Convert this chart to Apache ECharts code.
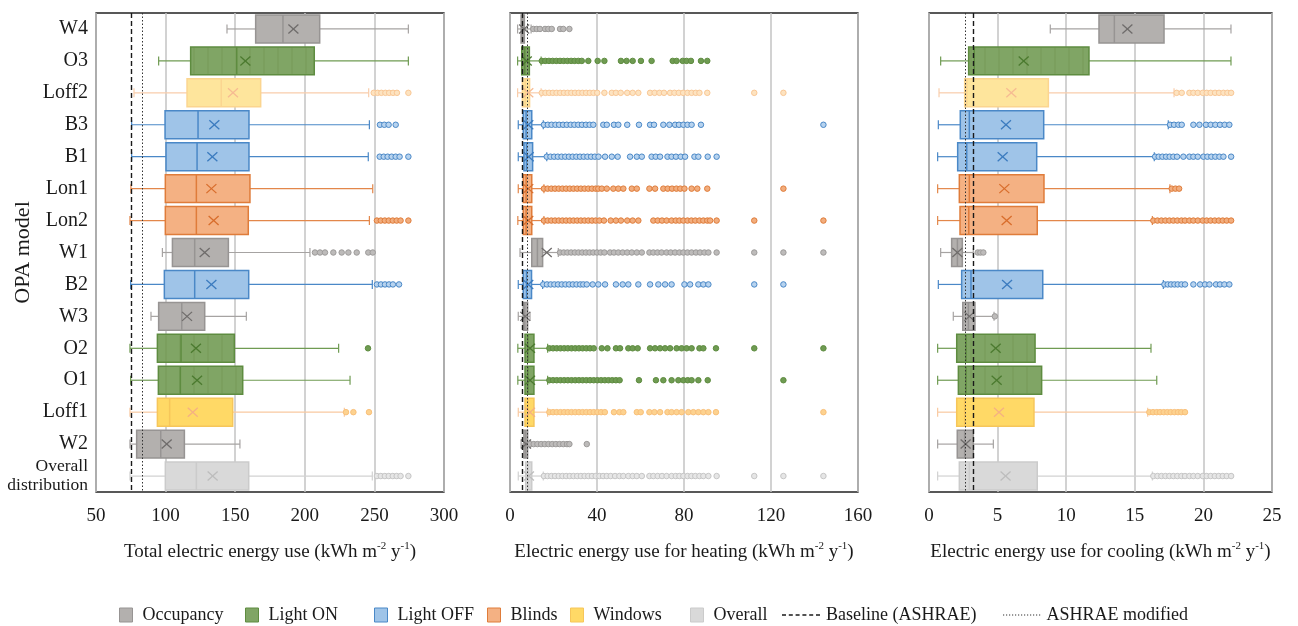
<!DOCTYPE html>
<html><head><meta charset="utf-8">
<script src="https://cdn.jsdelivr.net/npm/echarts@6/dist/echarts.min.js"></script>
<style>html,body{margin:0;padding:0;background:#fff}#c{width:1298px;height:626px}</style>
</head><body><div id="c"></div>
<script>
// ---------------- DATA ----------------
const categories = ['W4','O3','Loff2','B3','B1','Lon1','Lon2','W1','B2','W3','O2','O1','Loff1','W2','Overall distribution'];
const categoryGroups = ['Occupancy','Light ON','Windows','Light OFF','Light OFF','Blinds','Blinds','Occupancy','Light OFF','Occupancy','Light ON','Light ON','Windows','Occupancy','Overall'];
const legendNames = ['Occupancy','Light ON','Light OFF','Blinds','Windows','Overall','Baseline (ASHRAE)','ASHRAE modified'];

const totalTicks = [50,100,150,200,250,300];
const heatingTicks = [0,40,80,120,160];
const coolingTicks = [0,5,10,15,20,25];

// [min, Q1, median, Q3, max]
const totalStats = [
  [144.1,164.7,184.3,210.7,274.4],[95.0,118.0,151.1,206.8,274.4],[77.3,115.4,140.0,168.3,245.9],
  [75.6,99.6,123.3,159.9,246.4],[75.6,100.3,122.6,159.9,245.6],[75.1,99.8,122.1,160.6,248.8],
  [74.4,99.8,122.1,159.4,246.4],[97.7,104.9,120.9,145.1,203.7],[74.9,99.1,120.9,159.7,248.5],
  [89.5,95.0,111.6,128.1,158.0],[74.4,94.1,111.1,149.4,224.3],[74.9,94.8,110.6,155.4,232.5],
  [74.4,94.1,102.9,148.2,228.4],[74.4,79.2,96.5,113.5,153.4],[74.4,99.8,122.1,159.7,248.5]
];
const totalMeans = [191.8,157.3,148.4,135.0,133.6,132.9,134.5,128.1,132.9,115.4,121.8,122.6,119.5,100.8,133.8];
const totalOutliers = [
  [],[],[249.5,252.3,255.0,257.9,260.6,263.4,266.2,274.4],
  [254.0,257.1,260.2,265.3],[253.8,256.7,259.5,262.4,265.3,268.1,274.4],[],
  [251.8,254.6,257.5,260.3,263.2,266.0,268.8,274.4],[207.3,210.9,214.5,220.5,226.5,231.3,237.3,245.6,248.8],[251.8,254.7,257.6,260.5,263.3,267.7],
  [],[245.4],[],
  [229.6,234.9,246.1],[],[251.8,254.6,257.5,260.3,263.2,266.0,268.8,274.4]
];
const totalBaseline = [75.6, 83.3];

const heatingStats = [
  [3.5,5.1,5.8,6.6,9.7],[3.5,5.4,6.8,8.9,14.3],[3.5,5.7,7.0,9.0,14.3],
  [3.8,6.1,7.4,10.0,15.3],[3.8,6.4,7.6,10.4,16.9],[3.8,6.1,7.4,10.0,15.6],
  [3.6,6.1,7.4,10.0,15.6],[4.6,10.0,12.6,15.0,22.2],[3.8,6.1,7.6,9.9,15.0],
  [3.8,6.1,6.8,8.1,9.2],[3.6,6.9,8.2,11.0,17.3],[3.6,6.9,8.2,11.0,17.3],
  [3.8,6.9,8.2,11.0,17.3],[5.1,6.4,7.2,8.1,9.2],[3.8,7.2,8.3,10.0,15.3]
];
const heatingMeans = [6.5,7.7,8.4,8.4,8.6,8.4,8.4,16.9,8.4,7.0,9.2,9.2,9.2,7.4,8.7];
const heatingOutliers = [
  [10.7,12.3,13.8,16.1,17.6,19.2,23.0,24.5,27.3],
  [14.6,16.2,17.9,19.6,21.3,23.0,24.7,26.4,28.1,29.7,31.4,33.0,36.0,40.3,43.4,51.0,53.6,56.4,60.2,65.1,74.8,76.6,79.4,81.2,83.2,87.8,90.7],
  [14.6,16.3,18.0,19.7,21.4,23.1,24.8,26.5,28.2,29.9,31.6,33.3,35.0,36.7,38.4,40.1,43.4,46.8,48.7,50.9,53.9,56.4,59.0,64.4,66.5,68.7,70.8,73.6,75.6,77.6,79.6,81.6,83.5,85.4,87.1,90.7,112.3,125.7],
  [15.6,17.4,19.1,20.9,22.6,24.4,26.1,27.9,29.6,31.4,33.1,34.9,36.6,38.3,42.9,44.5,47.8,49.8,53.9,59.3,64.4,66.2,70.5,73.3,75.9,77.7,79.7,81.6,83.5,87.8,144.1],
  [16.9,18.6,20.3,22.0,23.7,25.4,27.1,28.8,30.5,32.2,33.9,35.6,37.3,39.0,40.7,43.7,46.8,49.5,55.2,58.3,60.6,65.1,67.0,69.0,72.4,74.3,76.3,78.5,80.5,84.8,86.6,90.9,95.0],
  [15.6,17.3,19.0,20.7,22.4,24.1,25.8,27.5,29.2,30.9,32.6,34.3,36.0,37.7,39.4,40.6,42.2,44.5,47.5,49.8,52.1,56.0,58.3,64.1,66.7,70.5,72.5,74.5,76.5,78.3,80.2,83.5,86.1,90.7,125.7],
  [15.6,17.3,19.0,20.7,22.4,24.1,25.8,27.5,29.2,30.9,32.6,34.3,36.0,37.7,39.4,41.1,43.2,46.3,48.7,51.0,53.9,56.4,59.0,65.9,67.9,69.9,72.0,74.3,76.2,77.9,79.7,81.6,83.4,85.2,87.1,88.9,90.7,92.0,95.0,112.3,144.1],
  [23.0,24.7,26.4,28.1,29.8,31.5,33.2,34.9,36.6,38.3,40.0,41.7,43.4,46.0,47.8,49.8,51.8,53.9,56.0,58.3,60.6,64.1,65.9,67.8,69.7,72.0,73.9,75.9,77.9,79.7,81.6,83.5,85.5,87.4,89.4,91.2,95.0,112.3,125.7,144.1],
  [15.3,17.0,18.7,20.4,22.1,23.8,25.5,27.2,28.9,30.6,32.3,33.7,35.3,38.0,40.6,43.7,48.7,51.8,54.4,59.0,64.4,68.2,71.3,74.3,80.2,82.8,86.6,88.9,91.2,112.3,125.7],
  [],
  [18.1,19.8,21.5,23.2,24.9,26.6,28.3,30.0,31.7,33.4,35.1,36.8,38.5,42.2,44.8,48.7,50.6,54.4,56.4,58.7,64.4,66.7,69.0,71.3,73.6,76.6,78.9,81.2,83.5,87.1,88.9,94.7,112.3,144.1],
  [18.1,19.8,21.5,23.2,24.9,26.6,28.3,30.0,31.7,33.4,35.1,36.8,38.5,40.2,41.9,43.6,45.3,47.0,48.7,50.4,59.3,67.1,70.5,74.3,77.4,79.7,81.7,83.5,86.6,90.9,125.7],
  [18.1,19.8,21.5,23.2,24.9,26.6,28.3,30.0,31.7,33.4,35.1,36.8,38.5,40.2,41.9,43.6,47.8,50.3,52.1,58.3,60.1,64.1,66.4,69.0,72.4,74.3,76.6,78.9,82.0,84.3,86.6,88.9,91.2,94.7,144.1],
  [9.2,10.9,12.6,14.3,16.0,17.7,19.4,21.1,22.8,24.5,26.2,27.3,35.3],
  [15.6,17.3,19.0,20.7,22.4,24.1,25.8,27.5,29.2,30.9,32.6,34.3,36.0,37.7,39.4,41.1,42.8,44.5,46.3,48.3,50.3,52.1,54.4,56.4,58.3,60.6,64.1,65.9,67.9,69.9,72.0,74.3,76.2,77.9,79.7,81.6,83.4,85.2,87.1,88.9,91.2,95.0,112.3,125.7,144.1]
];
const heatingBaseline = [5.7, 8.1];

const coolingStats = [
  [8.84,12.39,13.51,17.13,22.01],[0.85,2.89,3.30,11.66,22.01],[0.73,2.60,2.75,8.70,17.86],
  [0.68,2.28,2.94,8.36,17.44],[0.63,2.09,2.75,7.85,16.42],[0.63,2.21,2.94,8.38,17.56],
  [0.63,2.26,2.90,7.89,16.28],[0.85,1.65,2.07,2.43,3.23],[0.68,2.38,3.06,8.29,17.08],
  [1.77,2.46,2.87,3.35,4.74],[0.63,2.02,2.70,7.73,16.18],[0.63,2.14,2.70,8.21,16.60],
  [0.63,2.02,2.60,7.65,15.94],[0.63,2.06,2.60,3.23,4.69],[0.63,2.21,2.94,7.89,16.28]
];
const coolingMeans = [14.46,6.90,6.00,5.61,5.37,5.49,5.66,2.07,5.69,2.94,4.86,4.93,5.10,2.67,5.58];
const coolingOutliers = [
  [],[],
  [18.05,18.42,18.98,19.27,19.59,19.95,20.24,20.53,20.85,21.14,21.46,21.75,22.02],
  [17.57,17.86,18.18,18.42,19.27,19.71,20.19,20.53,20.87,21.21,21.55,21.89],
  [16.48,16.74,17.01,17.28,17.54,17.81,18.08,18.54,18.98,19.27,19.59,20.00,20.29,20.58,20.87,21.17,21.46,22.02],
  [17.69,17.96,18.23],
  [16.35,16.65,16.94,17.23,17.52,17.81,18.10,18.40,18.66,18.98,19.27,19.59,19.95,20.24,20.53,20.83,21.12,21.41,21.70,22.02],
  [3.55,3.75,3.96],
  [17.16,17.40,17.64,17.89,18.13,18.40,18.66,19.27,19.76,20.12,20.44,20.92,21.21,21.53,21.89],
  [4.80],[],[],
  [16.06,16.33,16.60,16.84,17.11,17.37,17.62,17.89,18.15,18.39,18.66],
  [],
  [16.35,16.65,16.94,17.23,17.52,17.81,18.10,18.40,18.66,18.98,19.27,19.59,19.95,20.24,20.53,20.83,21.12,21.41,21.70,22.02]
];
const coolingBaseline = [3.23, 2.62];

// ---------------- STYLE ----------------
const FONT = '"Liberation Serif","Times New Roman",serif';
const groupStyles = {
  'Occupancy': {fill:'#b3b0ae', border:'#979493', whisker:'#a6a3a2', mean:'#6f6c6b', outFill:'#bdbbba', outBorder:'#9d9b9a'},
  'Light ON':  {fill:'#80a565', border:'#5e8c40', whisker:'#6f9b52', mean:'#4b7a2f', outFill:'#6f9b52', outBorder:'#5e8c40', stripes:true},
  'Light OFF': {fill:'#9fc4e8', border:'#4a88c7', whisker:'#4a88c7', mean:'#3b7bbf', outFill:'#b7d3ef', outBorder:'#4a88c7'},
  'Blinds':    {fill:'#f4b183', border:'#df7c3a', whisker:'#e3874a', mean:'#d86d2c', outFill:'#f2ad7d', outBorder:'#df7c3a'},
  'Windows':   {fill:'#ffd966', border:'#f6c65a', whisker:'#f9c9a0', mean:'#f5b183', outFill:'#fdd28f', outBorder:'#f9c07a'},
  'Overall':   {fill:'#d9d9d9', border:'#cbcbcb', whisker:'#d2d2d2', mean:'#bdbdbd', outFill:'#e6e6e6', outBorder:'#c6c6c6'}
};
const categoryStyleOverride = {
  'Loff2': {fill:'#fee59c', border:'#fbd590', whisker:'#f9cdab', mean:'#f6bb92', outFill:'#fde3c0', outBorder:'#f9c795'}
};
function styleOf(i){
  return Object.assign({}, groupStyles[categoryGroups[i]], categoryStyleOverride[categories[i]] || {});
}

const panels = [
  {ticks: totalTicks, stats: totalStats, means: totalMeans, outliers: totalOutliers, baseline: totalBaseline,
   title: ['Total electric energy use (kWh m','-2',' y','-1',')'], left: 96, width: 348},
  {ticks: heatingTicks, stats: heatingStats, means: heatingMeans, outliers: heatingOutliers, baseline: heatingBaseline,
   title: ['Electric energy use for heating (kWh m','-2',' y','-1',')'], left: 510, width: 348},
  {ticks: coolingTicks, stats: coolingStats, means: coolingMeans, outliers: coolingOutliers, baseline: coolingBaseline,
   title: ['Electric energy use for cooling (kWh m','-2',' y','-1',')'], left: 929, width: 343}
];

function makeRender(axisMin){
  return function(params, api){
    const cat = api.value(6);
    const st = styleOf(cat);
    const band = api.size([0,1])[1];
    const h = band * 0.875;
    const yc = api.coord([axisMin, cat])[1];
    const px = k => api.coord([api.value(k), cat])[0];
    const pMin = px(0), pQ1 = px(1), pMed = px(2), pQ3 = px(3), pMax = px(4), pMean = px(5);
    const gx0 = api.coord([axisMin, cat])[0];
    const cap = 4.5;
    const ls = {stroke: st.whisker, lineWidth: 1.2};
    const ch = [
      {type:'line', shape:{x1:pMin,y1:yc,x2:pQ1,y2:yc}, style:ls},
      {type:'line', shape:{x1:pQ3,y1:yc,x2:pMax,y2:yc}, style:ls},
      {type:'line', shape:{x1:pMin,y1:yc-cap,x2:pMin,y2:yc+cap}, style:ls},
      {type:'line', shape:{x1:pMax,y1:yc-cap,x2:pMax,y2:yc+cap}, style:ls},
      {type:'rect', shape:{x:pQ1,y:yc-h/2,width:pQ3-pQ1,height:h}, style:{fill:st.fill, stroke:st.border, lineWidth:1.5}}
    ];
    if (st.stripes){
      for (let x = gx0 + 14; x < pQ3 - 1; x += 14){
        if (x > pQ1 + 1) ch.push({type:'line', shape:{x1:x,y1:yc-h/2+1,x2:x,y2:yc+h/2-1}, style:{stroke:'rgba(80,120,50,0.22)', lineWidth:1}});
      }
    }
    ch.push({type:'line', shape:{x1:pMed,y1:yc-h/2,x2:pMed,y2:yc+h/2}, style:{stroke:st.border, lineWidth:1.5}});
    const m = 5;
    ch.push({type:'line', shape:{x1:pMean-m,y1:yc-m+0.5,x2:pMean+m,y2:yc+m-0.5}, style:{stroke:st.mean, lineWidth:1.3}});
    ch.push({type:'line', shape:{x1:pMean-m,y1:yc+m-0.5,x2:pMean+m,y2:yc-m+0.5}, style:{stroke:st.mean, lineWidth:1.3}});
    return {type:'group', children: ch};
  };
}

const grids = [], xAxes = [], yAxes = [], series = [];
panels.forEach((p, pi) => {
  grids.push({left: p.left, width: p.width, top: 13, height: 479, show: true, borderColor: '#222', borderWidth: 1.3,
              backgroundColor: 'transparent', containLabel: false, outerBoundsMode: 'none'});
  const t = p.ticks;
  xAxes.push({
    type: 'value', gridIndex: pi, min: t[0], max: t[t.length-1], interval: t[1]-t[0],
    axisLine: {show: false}, axisTick: {show: false},
    splitLine: {show: true, lineStyle: {color: '#c3c3c3', width: 1.5}},
    axisLabel: {fontFamily: FONT, fontSize: 19, color: '#1a1a1a', margin: 15, showMinLabel: true, showMaxLabel: true},
    name: '{t|' + p.title[0] + '}{s|' + p.title[1] + '}{t|' + p.title[2] + '}{s|' + p.title[3] + '}{t|' + p.title[4] + '}',
    nameLocation: 'middle', nameGap: 49, nameMoveOverlap: false,
    nameTextStyle: {rich: {
      t: {fontFamily: FONT, fontSize: 19, color: '#1a1a1a', lineHeight: 22},
      s: {fontFamily: FONT, fontSize: 11, color: '#1a1a1a', lineHeight: 14, verticalAlign: 'top'}
    }}
  });
  yAxes.push({
    type: 'category', gridIndex: pi, data: categories, inverse: true,
    axisLine: {show: false}, axisTick: {show: false}, splitLine: {show: false},
    axisLabel: pi === 0 ? {
      show: true, fontFamily: FONT, fontSize: 20, color: '#1a1a1a', margin: 8, interval: 0,
      formatter: v => v === 'Overall distribution' ? '{o|Overall}\n{o|distribution}' : v,
      rich: {o: {fontFamily: FONT, fontSize: 17.5, color: '#1a1a1a', lineHeight: 19, align: 'right'}}
    } : {show: false},
    name: pi === 0 ? 'OPA model' : '', nameLocation: 'middle', nameGap: 62, nameRotate: 90, nameMoveOverlap: false,
    nameTextStyle: {fontFamily: FONT, fontSize: 22, color: '#1a1a1a'}
  });

  ['Occupancy','Light ON','Light OFF','Blinds','Windows','Overall'].forEach(g => {
    const idx = categories.map((c, i) => i).filter(i => categoryGroups[i] === g);
    const gs = groupStyles[g];
    series.push({
      type: 'custom', name: g, xAxisIndex: pi, yAxisIndex: pi, z: 2,
      itemStyle: {color: gs.fill, borderColor: gs.border},
      renderItem: makeRender(t[0]),
      encode: {x: [0,1,2,3,4,5], y: 6},
      data: idx.map(i => p.stats[i].concat([p.means[i], i])),
      silent: true, animation: false
    });
  });
  p.outliers.forEach((arr, i) => {
    if (!arr.length) return;
    const st = styleOf(i);
    series.push({
      type: 'scatter', name: categoryGroups[i], xAxisIndex: pi, yAxisIndex: pi, z: 3,
      symbol: 'circle', symbolSize: 5.5,
      itemStyle: {color: st.outFill, borderColor: st.outBorder, borderWidth: 1, opacity: 1},
      data: arr.map(v => [v, i]), silent: true, animation: false
    });
  });
  series.push({
    type: 'line', name: 'Baseline (ASHRAE)', xAxisIndex: pi, yAxisIndex: pi, data: [], symbol: 'none', showSymbol: false,
    itemStyle: {color: '#1a1a1a'},
    lineStyle: {color: '#1a1a1a', width: 1.4, type: [5,3]},
    markLine: {silent: true, symbol: ['none','none'], label: {show: false}, animation: false, z: 6,
      lineStyle: {color: '#1a1a1a', width: 1.4, type: [5,3]}, data: [{xAxis: p.baseline[0]}]}
  });
  series.push({
    type: 'line', name: 'ASHRAE modified', xAxisIndex: pi, yAxisIndex: pi, data: [], symbol: 'none', showSymbol: false,
    itemStyle: {color: '#333'},
    lineStyle: {color: '#333', width: 1, type: [1.5,2]},
    markLine: {silent: true, symbol: ['none','none'], label: {show: false}, animation: false, z: 6,
      lineStyle: {color: '#333', width: 1, type: [1.5,2]}, data: [{xAxis: p.baseline[1]}]}
  });
});

// legend glyphs for the two reference lines (dashed / dotted strokes, 38 px long)
const dashedIcon = 'path://M0,0h4v1.4h-4zM6.8,0h4v1.4h-4zM13.6,0h4v1.4h-4zM20.4,0h4v1.4h-4zM27.2,0h4v1.4h-4zM34,0h4v1.4h-4z';
let dotted = 'path://';
for (let k = 0; k < 13; k++) dotted += 'M' + (k * 3) + ',0h1.2v1h-1.2z';
const dottedIcon = dotted;

const legendLeft = [119, 245, 374, 487, 570, 690, 782, 1003];
const legends = legendNames.map((n, k) => {
  const isLine = k >= 6;
  const gs = groupStyles[n];
  return {
    left: legendLeft[k], top: 606, padding: 0, orient: 'horizontal',
    itemWidth: isLine ? 38 : 13, itemHeight: isLine ? (k === 6 ? 1.4 : 1) : 14, selectedMode: false,
    textStyle: {fontFamily: FONT, fontSize: 18, color: '#1a1a1a', padding: [0,0,0,isLine ? 1 : 5]},
    data: [isLine
      ? {name: n, icon: k === 6 ? dashedIcon : dottedIcon, itemStyle: {color: k === 6 ? '#1a1a1a' : '#333', borderWidth: 0}}
      : {name: n, icon: 'rect', itemStyle: {color: gs.fill, borderColor: gs.border, borderWidth: 1}}]
  };
});

const chart = echarts.init(document.getElementById('c'), null, {renderer: 'canvas'});
chart.setOption({
  animation: false, backgroundColor: '#fff',
  grid: grids, xAxis: xAxes, yAxis: yAxes, legend: legends, series: series
});
</script></body></html>
